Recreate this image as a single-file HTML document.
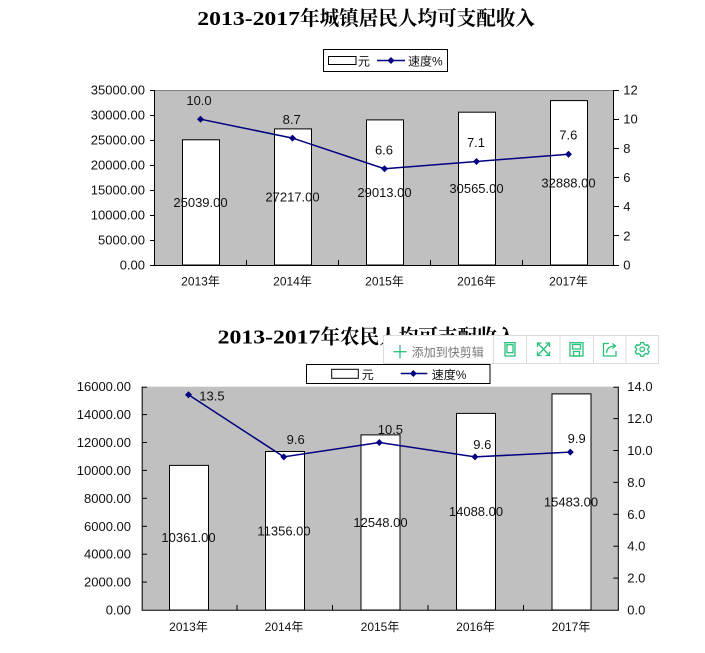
<!DOCTYPE html>
<html><head><meta charset="utf-8">
<style>
html,body{margin:0;padding:0;background:#fff;}
svg{display:block;}
text{font-family:"Liberation Sans","Noto Sans CJK SC",sans-serif;fill:#111;}
.t{font-family:"Liberation Serif","Noto Serif CJK SC",serif;font-weight:bold;font-size:20px;fill:#000;}
.v{font-size:13px;}
.x{font-size:12px;}
</style></head>
<body>
<svg width="705" height="653" viewBox="0 0 705 653" xmlns="http://www.w3.org/2000/svg">
<rect width="705" height="653" fill="#fff"/>

<!-- ===== TOP CHART ===== -->
<text class="t" x="197.3" y="25" textLength="102.7" lengthAdjust="spacingAndGlyphs">2013-2017</text>
<text class="t" x="300" y="25" textLength="235" lengthAdjust="spacingAndGlyphs">年城镇居民人均可支配收入</text>

<!-- legend -->
<rect x="323.5" y="49.5" width="124" height="22" fill="#fff" stroke="#000"/>
<rect x="328.5" y="56.5" width="27.5" height="8" fill="#fff" stroke="#000"/>
<text class="x" x="358" y="65.5">元</text>
<line x1="377" y1="60.5" x2="405" y2="60.5" stroke="#000080" stroke-width="1.5"/>
<polygon points="391,57 394.5,60.5 391,64 387.5,60.5" fill="#000080"/>
<text class="x" x="408" y="65.5">速度%</text>

<!-- plot area -->
<rect x="154" y="90" width="460" height="175" fill="#c0c0c0"/>
<line x1="154" y1="90.5" x2="614" y2="90.5" stroke="#808080"/>
<!-- bars -->
<g fill="#fff" stroke="#000" stroke-width="1">
<rect x="182.5" y="139.8" width="37" height="125.2"/>
<rect x="274.5" y="128.9" width="37" height="136.1"/>
<rect x="366.5" y="119.9" width="37" height="145.1"/>
<rect x="458.5" y="112.2" width="37" height="152.8"/>
<rect x="550.5" y="100.6" width="37" height="164.4"/>
</g>
<!-- axes -->
<line x1="154.5" y1="90" x2="154.5" y2="265.5" stroke="#000"/>
<line x1="613.5" y1="90" x2="613.5" y2="265.5" stroke="#000"/>
<line x1="154" y1="265.5" x2="614" y2="265.5" stroke="#000"/>
<g stroke="#000">
<line x1="150" y1="90.5" x2="154" y2="90.5"/>
<line x1="150" y1="115.5" x2="154" y2="115.5"/>
<line x1="150" y1="140.5" x2="154" y2="140.5"/>
<line x1="150" y1="165.5" x2="154" y2="165.5"/>
<line x1="150" y1="190.5" x2="154" y2="190.5"/>
<line x1="150" y1="215.5" x2="154" y2="215.5"/>
<line x1="150" y1="240.5" x2="154" y2="240.5"/>
<line x1="150" y1="265.5" x2="154" y2="265.5"/>
<line x1="614" y1="90.5" x2="619" y2="90.5"/>
<line x1="614" y1="119.5" x2="619" y2="119.5"/>
<line x1="614" y1="148.5" x2="619" y2="148.5"/>
<line x1="614" y1="177.5" x2="619" y2="177.5"/>
<line x1="614" y1="206.5" x2="619" y2="206.5"/>
<line x1="614" y1="235.5" x2="619" y2="235.5"/>
<line x1="614" y1="265.5" x2="619" y2="265.5"/>
<line x1="246.5" y1="260" x2="246.5" y2="265"/>
<line x1="338.5" y1="260" x2="338.5" y2="265"/>
<line x1="430.5" y1="260" x2="430.5" y2="265"/>
<line x1="522.5" y1="260" x2="522.5" y2="265"/>
</g>
<!-- left labels -->
<g class="v" text-anchor="end">
<text class="v" x="145" y="94.5">35000.00</text>
<text class="v" x="145" y="119.5">30000.00</text>
<text class="v" x="145" y="144.5">25000.00</text>
<text class="v" x="145" y="169.5">20000.00</text>
<text class="v" x="145" y="194.5">15000.00</text>
<text class="v" x="145" y="219.5">10000.00</text>
<text class="v" x="145" y="244.5">5000.00</text>
<text class="v" x="145" y="269.5">0.00</text>
</g>
<!-- right labels -->
<text class="v" x="623.3" y="94.5">12</text>
<text class="v" x="623.3" y="123.7">10</text>
<text class="v" x="623.3" y="152.8">8</text>
<text class="v" x="623.3" y="182">6</text>
<text class="v" x="623.3" y="211.2">4</text>
<text class="v" x="623.3" y="240.3">2</text>
<text class="v" x="623.3" y="269.5">0</text>
<!-- x labels -->
<g text-anchor="middle">
<text class="x" x="200.5" y="285.5">2013年</text>
<text class="x" x="292.5" y="285.5">2014年</text>
<text class="x" x="384.5" y="285.5">2015年</text>
<text class="x" x="476.5" y="285.5">2016年</text>
<text class="x" x="568.5" y="285.5">2017年</text>
<!-- bar values -->
<text class="v" x="200.5" y="206.9">25039.00</text>
<text class="v" x="292.5" y="201.5">27217.00</text>
<text class="v" x="384.5" y="197">29013.00</text>
<text class="v" x="476.5" y="193.1">30565.00</text>
<text class="v" x="568.5" y="187.3">32888.00</text>
</g>
<!-- line -->
<polyline points="200.5,119.2 292.5,138.1 384.5,168.75 476.5,161.5 568.5,154.2" fill="none" stroke="#000080" stroke-width="1.5"/>
<g fill="#000080">
<polygon points="200.5,115.7 204,119.2 200.5,122.7 197,119.2"/>
<polygon points="292.5,134.6 296,138.1 292.5,141.6 289,138.1"/>
<polygon points="384.5,165.25 388,168.75 384.5,172.25 381,168.75"/>
<polygon points="476.5,158 480,161.5 476.5,165 473,161.5"/>
<polygon points="568.5,150.7 572,154.2 568.5,157.7 565,154.2"/>
</g>
<g text-anchor="middle">
<text class="v" x="199" y="105">10.0</text>
<text class="v" x="291.7" y="124">8.7</text>
<text class="v" x="384" y="154.5">6.6</text>
<text class="v" x="476" y="147">7.1</text>
<text class="v" x="568.3" y="139.5">7.6</text>
</g>

<!-- ===== BOTTOM CHART ===== -->
<text class="t" x="217.7" y="343.3" textLength="102.7" lengthAdjust="spacingAndGlyphs">2013-2017</text>
<text class="t" x="320.4" y="343.3" textLength="196" lengthAdjust="spacingAndGlyphs">年农民人均可支配收入</text>

<!-- legend -->
<rect x="306.5" y="364.5" width="183.5" height="19" fill="#fff" stroke="#000"/>
<rect x="331.7" y="369.3" width="26.6" height="9" fill="#fff" stroke="#000"/>
<text class="x" x="361.7" y="379">元</text>
<line x1="400.7" y1="373.5" x2="427.3" y2="373.5" stroke="#000080" stroke-width="1.5"/>
<polygon points="413.3,370 416.8,373.5 413.3,377 409.8,373.5" fill="#000080"/>
<text class="x" x="431.7" y="379">速度%</text>

<!-- plot -->
<rect x="141.7" y="386.7" width="477" height="223.3" fill="#c0c0c0"/>
<g fill="#fff" stroke="#000" stroke-width="1">
<rect x="169.5" y="465.4" width="39" height="144.6"/>
<rect x="265.5" y="451.5" width="39" height="158.5"/>
<rect x="361" y="434.9" width="39" height="175.1"/>
<rect x="456.5" y="413.4" width="39" height="196.6"/>
<rect x="552" y="393.9" width="39" height="216.1"/>
</g>
<line x1="142.2" y1="386.7" x2="142.2" y2="610.5" stroke="#000"/>
<line x1="618.3" y1="386.7" x2="618.3" y2="610.5" stroke="#000"/>
<line x1="141.7" y1="610.3" x2="618.8" y2="610.3" stroke="#000"/>
<g stroke="#000">
<line x1="142" y1="387.2" x2="147" y2="387.2"/>
<line x1="142" y1="414.6" x2="147" y2="414.6"/>
<line x1="142" y1="442.5" x2="147" y2="442.5"/>
<line x1="142" y1="470.4" x2="147" y2="470.4"/>
<line x1="142" y1="498.3" x2="147" y2="498.3"/>
<line x1="142" y1="526.3" x2="147" y2="526.3"/>
<line x1="142" y1="554.2" x2="147" y2="554.2"/>
<line x1="142" y1="582.1" x2="147" y2="582.1"/>
<line x1="613.3" y1="387.2" x2="618" y2="387.2"/>
<line x1="613.3" y1="418.6" x2="618" y2="418.6"/>
<line x1="613.3" y1="450.5" x2="618" y2="450.5"/>
<line x1="613.3" y1="482.4" x2="618" y2="482.4"/>
<line x1="613.3" y1="514.3" x2="618" y2="514.3"/>
<line x1="613.3" y1="546.2" x2="618" y2="546.2"/>
<line x1="613.3" y1="578.1" x2="618" y2="578.1"/>
<line x1="237" y1="605" x2="237" y2="610"/>
<line x1="332.5" y1="605" x2="332.5" y2="610"/>
<line x1="428" y1="605" x2="428" y2="610"/>
<line x1="523.5" y1="605" x2="523.5" y2="610"/>
</g>
<g text-anchor="end">
<text class="v" x="131" y="391.2">16000.00</text>
<text class="v" x="131" y="419.1">14000.00</text>
<text class="v" x="131" y="447">12000.00</text>
<text class="v" x="131" y="474.9">10000.00</text>
<text class="v" x="131" y="502.8">8000.00</text>
<text class="v" x="131" y="530.8">6000.00</text>
<text class="v" x="131" y="558.7">4000.00</text>
<text class="v" x="131" y="586.6">2000.00</text>
<text class="v" x="131" y="614.5">0.00</text>
</g>
<text class="v" x="627.3" y="391.2">14.0</text>
<text class="v" x="627.3" y="423.1">12.0</text>
<text class="v" x="627.3" y="455">10.0</text>
<text class="v" x="627.3" y="486.9">8.0</text>
<text class="v" x="627.3" y="518.8">6.0</text>
<text class="v" x="627.3" y="550.7">4.0</text>
<text class="v" x="627.3" y="582.6">2.0</text>
<text class="v" x="627.3" y="614.5">0.0</text>
<g text-anchor="middle">
<text class="x" x="188.5" y="631">2013年</text>
<text class="x" x="284" y="631">2014年</text>
<text class="x" x="380" y="631">2015年</text>
<text class="x" x="475.5" y="631">2016年</text>
<text class="x" x="571" y="631">2017年</text>
<text class="v" x="188.5" y="542.2">10361.00</text>
<text class="v" x="284" y="535.3">11356.00</text>
<text class="v" x="380.5" y="526.9">12548.00</text>
<text class="v" x="476" y="516.2">14088.00</text>
<text class="v" x="571" y="506.5">15483.00</text>
</g>
<polyline points="188.5,394.7 283.8,456.9 379.3,442.5 475,456.9 570.3,452.1" fill="none" stroke="#000080" stroke-width="1.5"/>
<g fill="#000080">
<polygon points="188.5,391.2 192,394.7 188.5,398.2 185,394.7"/>
<polygon points="283.8,453.4 287.3,456.9 283.8,460.4 280.3,456.9"/>
<polygon points="379.3,439 382.8,442.5 379.3,446 375.8,442.5"/>
<polygon points="475,453.4 478.5,456.9 475,460.4 471.5,456.9"/>
<polygon points="570.3,448.6 573.8,452.1 570.3,455.6 566.8,452.1"/>
</g>
<text class="v" x="199.3" y="400.5">13.5</text>
<g text-anchor="middle">
<text class="v" x="295.7" y="443.8">9.6</text>
<text class="v" x="390.4" y="434">10.5</text>
<text class="v" x="482.3" y="448.8">9.6</text>
<text class="v" x="576.7" y="442.8">9.9</text>
</g>

<!-- ===== TOOLBAR OVERLAY ===== -->
<rect x="383.5" y="335.5" width="275" height="28" fill="#fff" stroke="#dcdcdc"/>
<g stroke="#dcdcdc">
<line x1="493.5" y1="336" x2="493.5" y2="363"/>
<line x1="526.5" y1="336" x2="526.5" y2="363"/>
<line x1="560" y1="336" x2="560" y2="363"/>
<line x1="593.5" y1="336" x2="593.5" y2="363"/>
<line x1="626" y1="336" x2="626" y2="363"/>
</g>
<g stroke="#27c07a" stroke-width="1.3" fill="none">
<line x1="393.3" y1="351.7" x2="406.7" y2="351.7"/>
<line x1="400" y1="345" x2="400" y2="358.4"/>
<!-- phone -->
<rect x="505" y="342.7" width="10" height="13.3"/>
<rect x="507" y="344.7" width="6" height="8"/>
<!-- expand -->
<line x1="538" y1="343.5" x2="549" y2="355"/>
<line x1="549" y1="343.5" x2="538" y2="355"/>
<polyline points="537.5,347 537.5,343 541.5,343"/>
<polyline points="545.5,343 549.5,343 549.5,347"/>
<polyline points="537.5,351.5 537.5,355.5 541.5,355.5"/>
<polyline points="545.5,355.5 549.5,355.5 549.5,351.5"/>
<!-- save -->
<rect x="570" y="342.7" width="13" height="13.3"/>
<rect x="572.5" y="344.5" width="8" height="4.5"/>
<rect x="573.5" y="351.5" width="6" height="4.5"/>
<!-- share -->
<polyline points="609,343.5 603.5,343.5 603.5,356 616,356 616,351"/>
<path d="M606.5,353 C607,348 610,346 615,346"/>
<polyline points="612.5,343.5 615.5,346 612.5,348.5"/>
<!-- gear -->
<circle cx="642.2" cy="349.3" r="2.3"/>
<path d="M640.7,342.6 h3 l0.5,1.8 l1.7,0.9 l1.8,-0.6 l1.5,2.6 l-1.4,1.3 v1.6 l1.4,1.3 l-1.5,2.6 l-1.8,-0.6 l-1.7,0.9 l-0.5,1.8 h-3 l-0.5,-1.8 l-1.7,-0.9 l-1.8,0.6 l-1.5,-2.6 l1.4,-1.3 v-1.6 l-1.4,-1.3 l1.5,-2.6 l1.8,0.6 l1.7,-0.9 z"/>
</g>
<text x="411.7" y="356.3" style="font-size:12px;fill:#777;">添加到快剪辑</text>
</svg>
</body></html>
